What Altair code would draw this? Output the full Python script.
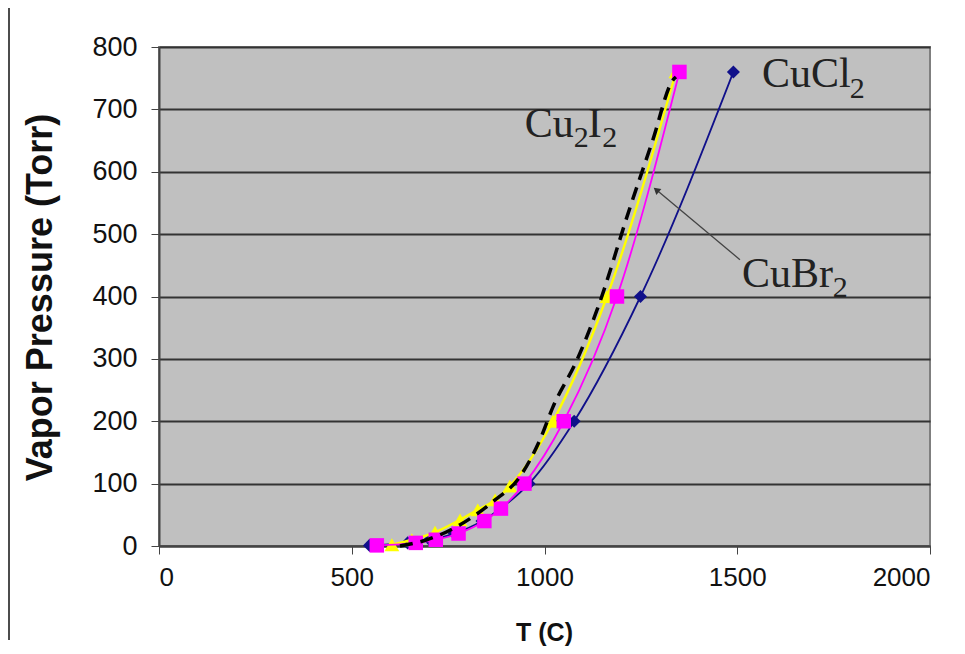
import altair as alt
import pandas as pd

# ---- data ----
pressure_torr = [1, 5, 10, 20, 40, 60, 100, 200, 400, 760]

cucl2_T = [546, 645, 702, 766, 838, 886, 960, 1077, 1249, 1490]
cubr2_T = [565, 666, 718, 777, 844, 887, 948, 1050, 1188, 1350]

cu2i2_T = [604, 656, 716, 781, 827, 872, 910, 1022, 1162, 1341]
cu2i2_P = [2, 10, 22, 42, 58, 74, 96, 200, 400, 760]

fit_T = [625, 695, 781, 866, 936, 988, 1022, 1084, 1136, 1222, 1281, 1333, 1341]
fit_P = [0, 10, 34, 71, 111, 170, 223, 298, 378, 543, 651, 747, 752]

x_ticks = [0, 500, 1000, 1500, 2000]
y_ticks = [0, 100, 200, 300, 400, 500, 600, 700, 800]

# annotations: (text, T, P)
labels_main = [("CuCl", 1564, 736), ("Cu", 949, 656), ("I", 1112, 656), ("CuBr", 1512, 415)]
labels_sub = [("2", 1792, 719), ("2", 1076, 640), ("2", 1150, 640), ("2", 1748, 399)]
arrow = {"T": [1507], "P": [459], "T2": [1290], "P2": [571]}
arrow_head = {"T": [1290], "P": [571]}

cucl2 = pd.DataFrame({"T": cucl2_T, "P": pressure_torr})
cubr2 = pd.DataFrame({"T": cubr2_T, "P": pressure_torr})
cu2i2 = pd.DataFrame({"T": cu2i2_T, "P": cu2i2_P})
fit = pd.DataFrame({"T": fit_T, "P": fit_P})
main_df = pd.DataFrame(labels_main, columns=["txt", "T", "P"])
sub_df = pd.DataFrame(labels_sub, columns=["txt", "T", "P"])

FONT = "Liberation Sans"
SERIF = "Liberation Serif"

xs = alt.Scale(domain=[0, 2000], nice=False)
ys = alt.Scale(domain=[0, 800], nice=False)

x_enc = alt.X("T:Q", scale=xs, axis=alt.Axis(
    values=x_ticks, format="d", grid=False, title="T (C)", tickSize=8, tickColor="#444",
    domainColor="#444", domainWidth=2, labelFont=FONT, labelFontSize=26,
    labelColor="#111", labelPadding=10, titleFont=FONT, titleFontSize=25,
    titleFontWeight="bold", titleColor="#111", titleX=385, titleY=86,
    titleBaseline="middle"))
y_enc = alt.Y("P:Q", scale=ys, axis=alt.Axis(
    values=y_ticks, grid=True, gridColor="#333", gridWidth=2, title="Vapor Pressure (Torr)",
    tickSize=8, tickColor="#444", domainColor="#444", domainWidth=2,
    labelFont=FONT, labelFontSize=27, labelColor="#111", labelPadding=14,
    titleFont=FONT, titleFontSize=36, titleFontWeight="bold", titleColor="#111",
    titleX=-119, titleY=250, titleAngle=-90, titleBaseline="middle"))


def series(df, color, shape, size, width):
    base = alt.Chart(df)
    line = base.mark_line(color=color, strokeWidth=width, interpolate="monotone").encode(
        x=x_enc, y=y_enc)
    pts = base.mark_point(filled=True, color=color, shape=shape, size=size, opacity=1).encode(
        x="T:Q", y="P:Q")
    return line + pts


blue = series(cucl2, "#10108a", "diamond", 170, 1.8)
yellow = series(cu2i2, "#ffff00", "triangle-up", 220, 2.4)
magenta = series(cubr2, "#ff00ff", "square", 210, 1.8)

dashed = alt.Chart(fit).mark_line(color="#000000", strokeWidth=3.5, strokeDash=[13, 8],
                                  interpolate="monotone").encode(x="T:Q", y="P:Q")

main_txt = alt.Chart(main_df).mark_text(font=SERIF, fontSize=42, align="left",
                                        baseline="alphabetic", color="#222").encode(
    x="T:Q", y="P:Q", text="txt:N")
sub_txt = alt.Chart(sub_df).mark_text(font=SERIF, fontSize=30, align="left",
                                      baseline="alphabetic", color="#222").encode(
    x="T:Q", y="P:Q", text="txt:N")

arrow_line = alt.Chart(pd.DataFrame(arrow)).mark_rule(color="#444", strokeWidth=1.3).encode(
    x="T:Q", y="P:Q", x2="T2:Q", y2="P2:Q")
arrow_tip = alt.Chart(pd.DataFrame(arrow_head)).mark_point(
    shape="triangle-up", filled=True, color="#333", size=60, angle=310, opacity=1).encode(
    x="T:Q", y="P:Q")

border = alt.Chart(pd.DataFrame({"a": [0]})).mark_rule(color="#111", strokeWidth=1.5).encode(
    x=alt.value(-150), y=alt.value(-39), y2=alt.value(593))

chart = alt.layer(
    blue, yellow, magenta, dashed, arrow_line, arrow_tip, main_txt, sub_txt, border
).properties(
    width=771, height=499,
    autosize=alt.AutoSizeParams(type="none"),
    padding={"left": 151, "top": 39, "right": 27, "bottom": 100},
).configure_view(fill="#c0c0c0", stroke="#7f7f7f", strokeWidth=2)

chart.save("out.html", embed_options={"renderer": "svg", "actions": False})
